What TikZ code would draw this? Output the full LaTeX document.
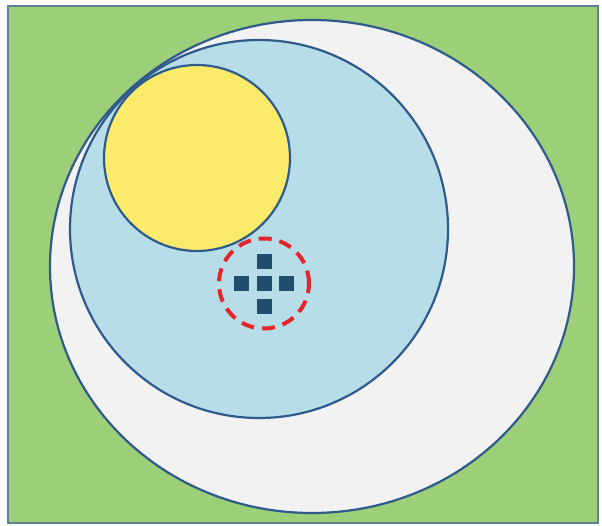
\documentclass[tikz,border=0pt]{standalone}
\usepackage{xcolor}
\usetikzlibrary{positioning,shapes.geometric}
\definecolor{field}{HTML}{9DCF78}
\definecolor{frameline}{HTML}{5C8299}
\definecolor{outline}{HTML}{2F5A8C}
\definecolor{outerfill}{HTML}{F2F2F2}
\definecolor{innerfill}{HTML}{B7DEE8}
\definecolor{corefill}{HTML}{FCEA6A}
\definecolor{ringred}{HTML}{E3262B}
\definecolor{dotfill}{HTML}{1F4E6E}
\begin{document}
\begin{tikzpicture}[x=1pt,y=-1pt,node distance=7pt,
  zone/.style={draw=outline,line width=2.2pt,inner sep=0pt},
  ring/.style={circle,draw=ringred,line width=4pt,dash pattern=on 13pt off 8pt,inner sep=0pt,minimum size=90pt},
  dot/.style={rectangle,fill=dotfill,inner sep=0pt,minimum size=15pt}]
\useasboundingbox (0,0) rectangle (602,526);
\node[draw=frameline,fill=field,line width=1.5pt,minimum width=590pt,minimum height=517pt,inner sep=0pt] (frame) at (303,264.5) {};
\node[zone,ellipse,fill=outerfill,minimum width=524pt,minimum height=493pt] (outer) at (312,266.5) {};
\node[zone,circle,fill=innerfill,minimum size=378pt] (inner) at (259,229) {};
\node[zone,circle,fill=corefill,minimum size=186pt] (core) at (197,158) {};
\node[ring] (ring) at (264,283.5) {};
\node[dot] (mid) at (264,284) {};
\node[dot,above=of mid] (up) {};
\node[dot,below=of mid] (down) {};
\node[dot,left=of mid] (lft) {};
\node[dot,right=of mid] (rgt) {};
\end{tikzpicture}
\end{document}
